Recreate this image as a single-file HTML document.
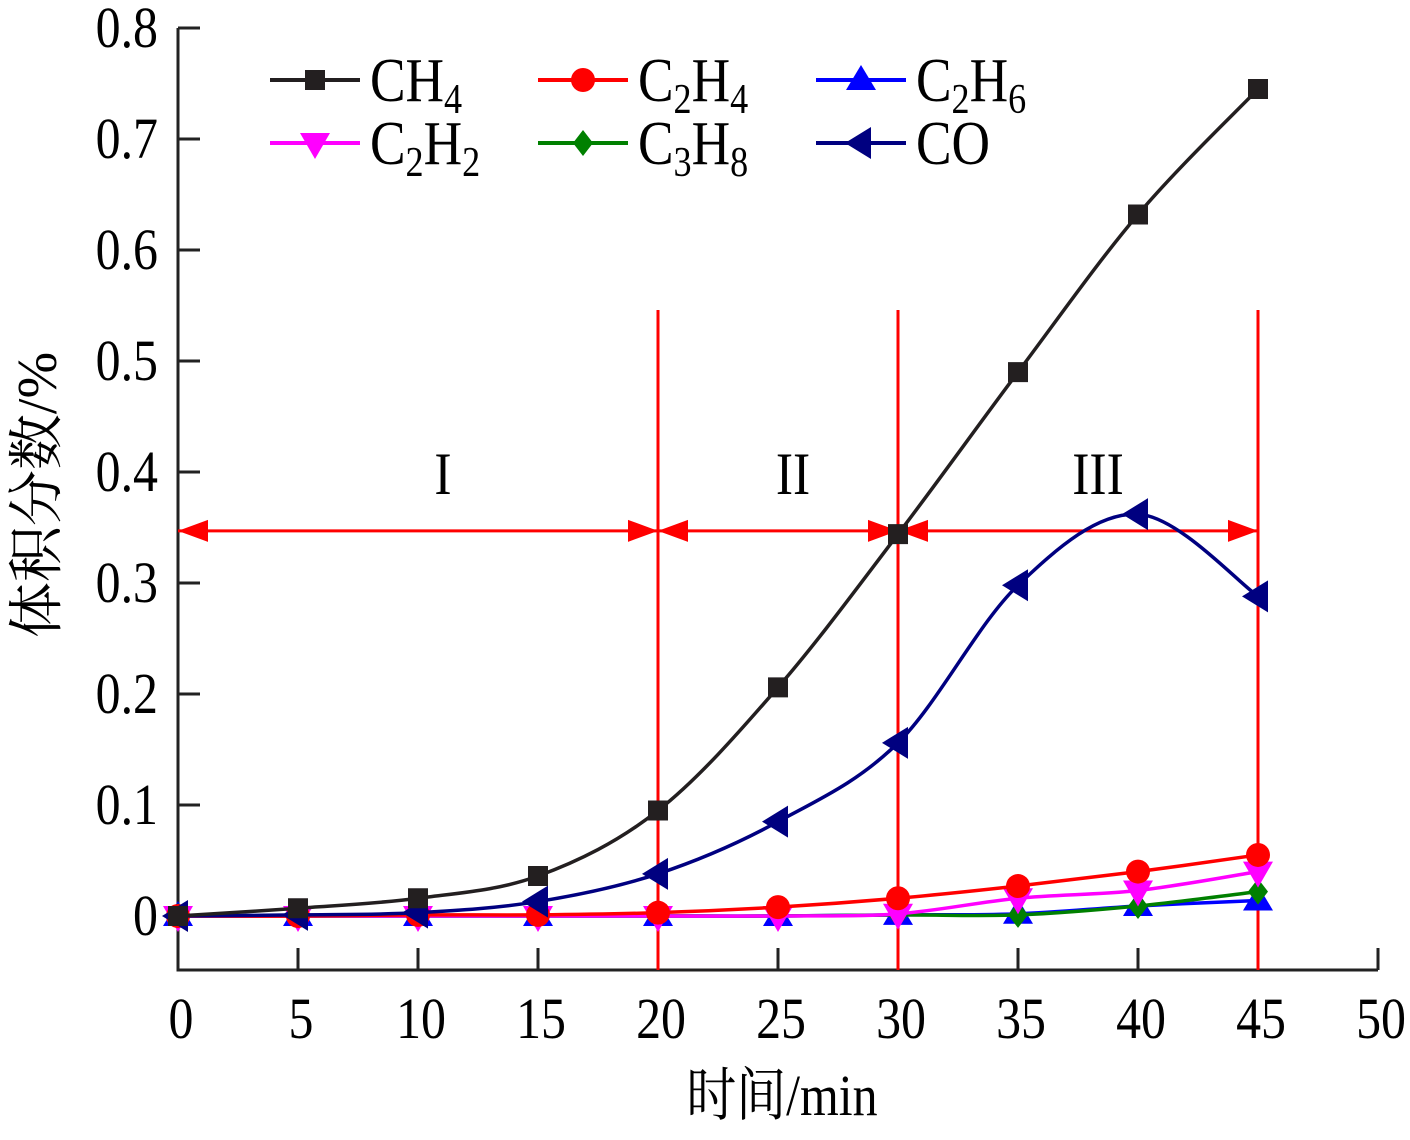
<!DOCTYPE html>
<html><head><meta charset="utf-8"><style>
body{margin:0;background:#fff}
svg text{font-family:"Liberation Serif","Noto Serif CJK SC",serif;fill:#000}
</style></head><body>
<svg id="c" width="1410" height="1135" viewBox="0 0 1410 1135">
<g id="axes"></g>
<g id="series"></g>
<g id="legend"></g>
</svg>
<script>
const times=[0,5,10,15,20,25,30,35,40,45];
const ch4=[0,0.007,0.016,0.036,0.095,0.206,0.344,0.49,0.632,0.745];
const c2h4=[0,0,0.001,0.001,0.003,0.008,0.016,0.027,0.04,0.055];
const c2h6=[0,0,0,0,0,0,0.001,0.002,0.009,0.014];
const c2h2=[0,0,0,0,0,0,0.002,0.016,0.023,0.04];
const c3h8=[0,0,0,0,0,0,0.001,0.001,0.009,0.022];
const co=[0,0.001,0.003,0.013,0.038,0.085,0.156,0.298,0.362,0.288];
const xTicks=[0,5,10,15,20,25,30,35,40,45,50];
const yTicks=[0,0.1,0.2,0.3,0.4,0.5,0.6,0.7,0.8];
const yTickLabels=["0","0.1","0.2","0.3","0.4","0.5","0.6","0.7","0.8"];
const stageBounds=[0,20,30,45];
const stageLabels=["I","II","III"];
const stageArrowY=0.347;

const NS="http://www.w3.org/2000/svg";
const X=v=>178+v*24;
const Y=v=>916-v*1110;
function mk(tag,attrs,parent){const e=document.createElementNS(NS,tag);for(const k in attrs)e.setAttribute(k,attrs[k]);parent.appendChild(e);return e;}
function txt(x,y,s,anchor,size,parent,html){
 const t=mk('text',{x:0,y:0,'text-anchor':anchor,'font-size':size,transform:`translate(${x},${y}) scale(0.86,1)`},parent);
 if(html)t.innerHTML=s;else t.textContent=s;return t;
}
const ax=document.getElementById('axes'),sr=document.getElementById('series'),lg=document.getElementById('legend');

let a=mk('path',{d:`M178 28 V970 H1378`,stroke:'#222',fill:'none','stroke-width':3},ax);

yTicks.forEach((v,i)=>{
 let t=mk('line',{x1:178,x2:200,y1:Y(v),y2:Y(v),stroke:'#222','stroke-width':3},ax);
 
 let l=txt(158,Y(v)+19,yTickLabels[i],'end',58,ax);
 
});
xTicks.forEach(v=>{
 let t=mk('line',{x1:X(v),x2:X(v),y1:948,y2:970,stroke:'#222','stroke-width':3},ax);
 
 let l=txt(X(v)+3,1038,String(v),'middle',58,ax);
 
});
let xt=txt(782,1115,'时间/min','middle',58,ax);

let yt=mk('text',{x:0,y:0,'text-anchor':'middle','font-size':56,transform:'translate(56,495) rotate(-90)'},ax);yt.textContent='体积分数/%';


stageBounds.slice(1).forEach(v=>{
 let l=mk('line',{x1:X(v),x2:X(v),y1:310,y2:970,stroke:'#f00','stroke-width':3},ax);
 
});
const ay=Y(stageArrowY);
let al=mk('line',{x1:X(stageBounds[0]),x2:X(stageBounds[3]),y1:ay,y2:ay,stroke:'#f00','stroke-width':3},ax);

const stageX=[443,793,1098];
for(let i=0;i<3;i++){
 const x0=X(stageBounds[i]),x1=X(stageBounds[i+1]);
 let p=mk('path',{d:`M${x0} ${ay} l30 -11 v22 Z M${x1} ${ay} l-30 -11 v22 Z`,fill:'#f00'},ax);
 
 let t=txt(stageX[i],Y(0.4)+22,stageLabels[i],'middle',60,ax);
 
}

function spline(vals){
 const p=vals.map((v,i)=>[X(times[i]),Y(v)]);
 let d=`M${p[0][0]} ${p[0][1]}`;
 for(let i=0;i<p.length-1;i++){
  const p0=p[Math.max(0,i-1)],p1=p[i],p2=p[i+1],p3=p[Math.min(p.length-1,i+2)];
  const c1=[p1[0]+(p2[0]-p0[0])/6,p1[1]+(p2[1]-p0[1])/6],c2=[p2[0]-(p3[0]-p1[0])/6,p2[1]-(p3[1]-p1[1])/6];
  d+=` C${c1[0]} ${c1[1]} ${c2[0]} ${c2[1]} ${p2[0]} ${p2[1]}`;
 }
 return d;
}
function marker(shape,x,y,color,parent){
 let d;
 if(shape==='sq')d=`M${x-10} ${y-10}h20v20h-20Z`;
 else if(shape==='up')d=`M${x} ${y-15}l15 25h-30Z`;
 else if(shape==='down')d=`M${x} ${y+16}l15 -26h-30Z`;
 else if(shape==='dia')d=`M${x} ${y-13}l10 13l-10 13l-10 -13Z`;
 else if(shape==='left')d=`M${x-16} ${y}l26 -16v32Z`;
 if(shape==='circ')return mk('circle',{cx:x,cy:y,r:12,fill:color},parent);
 return mk('path',{d:d,fill:color},parent);
}
const S=[
 {n:'c2h6',vals:c2h6,color:'#0000ff',shape:'up'},
 {n:'c3h8',vals:c3h8,color:'#008000',shape:'dia'},
 {n:'c2h2',vals:c2h2,color:'#ff00ff',shape:'down'},
 {n:'c2h4',vals:c2h4,color:'#ff0000',shape:'circ'},
 {n:'co',vals:co,color:'#000080',shape:'left'},
 {n:'ch4',vals:ch4,color:'#231f20',shape:'sq'}
];
S.forEach(s=>{
 const g=mk('g',{},sr);
 
 let l=mk('path',{d:spline(s.vals),fill:'none',stroke:s.color,'stroke-width':3.5},g);
 
 s.vals.forEach((v,i)=>{
  let m=marker(s.shape,X(times[i]),Y(v),s.color,g);
  
 });
});

const L=[
 {lab:'CH<tspan dy="12" font-size="42">4</tspan>',color:'#231f20',shape:'sq',x:270,y:80},
 {lab:'C<tspan dy="12" font-size="42">2</tspan><tspan dy="-12">H</tspan><tspan dy="12" font-size="42">4</tspan>',color:'#ff0000',shape:'circ',x:538,y:80},
 {lab:'C<tspan dy="12" font-size="42">2</tspan><tspan dy="-12">H</tspan><tspan dy="12" font-size="42">6</tspan>',color:'#0000ff',shape:'up',x:816,y:80},
 {lab:'C<tspan dy="12" font-size="42">2</tspan><tspan dy="-12">H</tspan><tspan dy="12" font-size="42">2</tspan>',color:'#ff00ff',shape:'down',x:270,y:143},
 {lab:'C<tspan dy="12" font-size="42">3</tspan><tspan dy="-12">H</tspan><tspan dy="12" font-size="42">8</tspan>',color:'#008000',shape:'dia',x:538,y:143},
 {lab:'CO',color:'#000080',shape:'left',x:816,y:143}
];
L.forEach(e=>{
 const g=mk('g',{},lg);
 
 mk('line',{x1:e.x,x2:e.x+90,y1:e.y,y2:e.y,stroke:e.color,'stroke-width':4},g);
 marker(e.shape,e.x+45,e.y,e.color,g);
 txt(e.x+100,e.y+21,e.lab,'start',62,g,true);
});
</script>
</body></html>
